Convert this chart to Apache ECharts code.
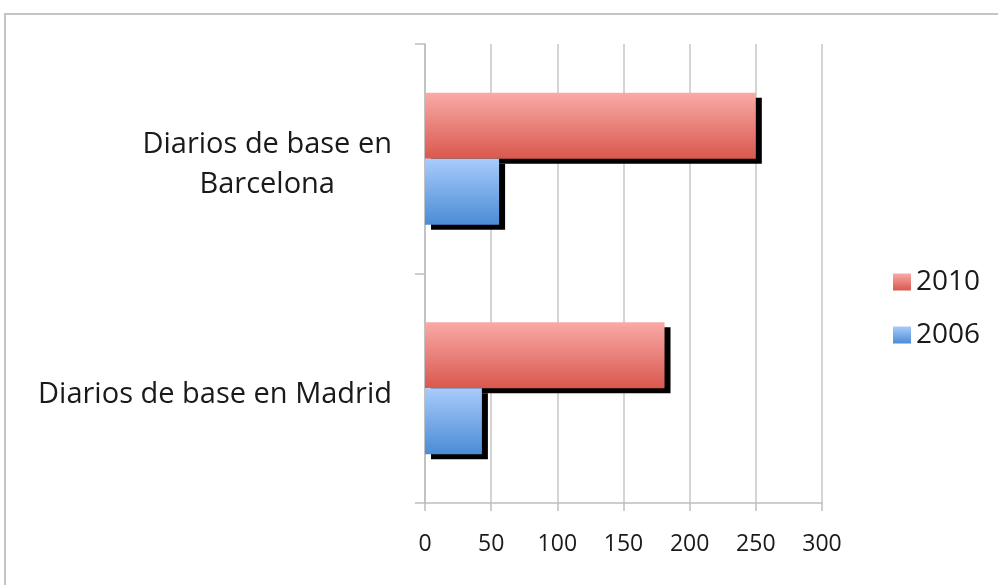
<!DOCTYPE html>
<html>
<head>
<meta charset="utf-8">
<script src="https://cdn.jsdelivr.net/npm/echarts@6/dist/echarts.min.js"></script>
<style>
  html, body { margin: 0; padding: 0; background: #ffffff; }
  #chart { width: 998px; height: 585px; }
</style>
</head>
<body>
<div id="chart"></div>
<script>
// Newspaper counts by city, 2006 vs 2010
const categories = ['Diarios de base en Madrid', 'Diarios de base en\nBarcelona'];
const seriesNames = ['2010', '2006'];
const values2010 = [181, 250];
const values2006 = [43, 56];
const xTicks = { min: 0, max: 300, interval: 50 };

const FONT = '"Open Sans", "Noto Sans", sans-serif';

function grad(top, bottom) {
  return new echarts.graphic.LinearGradient(0, 0, 0, 1, [
    { offset: 0, color: top },
    { offset: 1, color: bottom }
  ]);
}

const barShadow = {
  shadowColor: '#000000',
  shadowBlur: 0,
  shadowOffsetX: 6,
  shadowOffsetY: 5
};

const chart = echarts.init(document.getElementById('chart'), null, { renderer: 'canvas' });

chart.setOption({
  backgroundColor: '#ffffff',
  animation: false,
  graphic: [{
    type: 'rect',
    shape: { x: 5, y: 14, width: 1200, height: 800 },
    style: { fill: 'none', stroke: '#c4c4c4', lineWidth: 2 },
    silent: true,
    z: -1
  }],
  grid: { left: 425, right: 176, top: 44, bottom: 82, containLabel: false },
  legend: {
    orient: 'vertical',
    left: 888,
    top: 263,
    data: seriesNames,
    itemWidth: 18,
    itemHeight: 17,
    itemGap: 25,
    icon: 'rect',
    textStyle: { fontFamily: FONT, fontSize: 28, color: '#1a1a1a', padding: [0, 0, 0, 0] },
    itemStyle: { shadowColor: 'rgba(0,0,0,0)', shadowBlur: 0, shadowOffsetX: 0, shadowOffsetY: 0 }
  },
  xAxis: {
    type: 'value',
    min: xTicks.min,
    max: xTicks.max,
    interval: xTicks.interval,
    axisLine: { show: true, lineStyle: { color: '#bdbdbd', width: 1.5 } },
    axisTick: { show: true, length: 8, lineStyle: { color: '#bdbdbd', width: 1.5 } },
    splitLine: { show: true, lineStyle: { color: '#c6c6c6', width: 1.5 } },
    axisLabel: { fontFamily: FONT, fontSize: 23, color: '#1a1a1a', margin: 30 }
  },
  yAxis: {
    type: 'category',
    data: categories,
    axisLine: { show: true, lineStyle: { color: '#bdbdbd', width: 1.5 } },
    axisTick: { show: true, length: 10, lineStyle: { color: '#bdbdbd', width: 1.5 } },
    axisLabel: {
      margin: 33,
      padding: [12, 0, 0, 0],
      formatter: function (v) {
        return v.split('\n').map(function (s) { return '{c|' + s + '}'; }).join('\n');
      },
      rich: {
        c: { fontFamily: FONT, fontSize: 29, lineHeight: 40, color: '#1a1a1a', align: 'center' }
      }
    }
  },
  series: [
    {
      name: seriesNames[0],
      type: 'bar',
      data: values2010,
      barWidth: 66,
      barGap: '0%',
      z: 2,
      itemStyle: Object.assign({ color: grad('#f9aaa7', '#d9584e') }, barShadow)
    },
    {
      name: seriesNames[1],
      type: 'bar',
      data: values2006,
      barWidth: 66,
      barGap: '0%',
      z: 3,
      itemStyle: Object.assign({ color: grad('#a9cbfb', '#4a8cd6') }, barShadow)
    }
  ]
});
</script>
</body>
</html>
